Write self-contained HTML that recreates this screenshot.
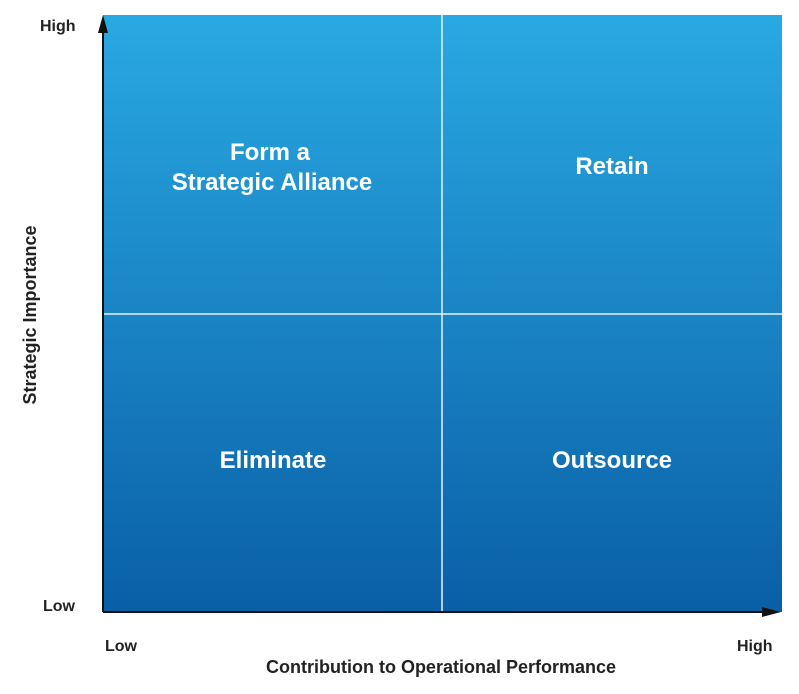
<!DOCTYPE html>
<html><head><meta charset="utf-8"><style>
body{margin:0;background:#fff;width:799px;height:689px;overflow:hidden;font-family:"Liberation Sans",sans-serif}
</style></head><body>
<svg width="799" height="689">
<defs><linearGradient id="g" x1="0" y1="0" x2="0" y2="1">
<stop offset="0" stop-color="#29a9e2"/><stop offset="1" stop-color="#0a5fa6"/></linearGradient></defs>
<rect x="103" y="15" width="679" height="597" fill="url(#g)"/>
<line x1="442" y1="15" x2="442" y2="612" stroke="#e8f2fa" stroke-width="1.5"/>
<line x1="103" y1="314" x2="782" y2="314" stroke="#e8f2fa" stroke-width="1.5"/>
<line x1="103" y1="30" x2="103" y2="612" stroke="#111" stroke-width="2"/>
<polygon points="103,15 98,33 108,33" fill="#111"/>
<line x1="103" y1="612" x2="765" y2="612" stroke="#111" stroke-width="2"/>
<polygon points="781,612 762,607 762,617" fill="#111"/>
<g fill="#fff" font-weight="bold" font-size="24" text-anchor="middle">
<text x="270" y="160">Form a</text>
<text x="272" y="190">Strategic Alliance</text>
<text x="612" y="174">Retain</text>
<text x="273" y="468">Eliminate</text>
<text x="612" y="468">Outsource</text>
</g>
<g fill="#222" font-weight="bold" font-size="16">
<text x="40" y="31">High</text>
<text x="43" y="611">Low</text>
<text x="105" y="651">Low</text>
<text x="737" y="651">High</text>
<text x="441" y="673" text-anchor="middle" font-size="18">Contribution to Operational Performance</text>
<text transform="translate(36,315) rotate(-90)" text-anchor="middle" font-size="18">Strategic Importance</text>
</g>
</svg>
</body></html>
